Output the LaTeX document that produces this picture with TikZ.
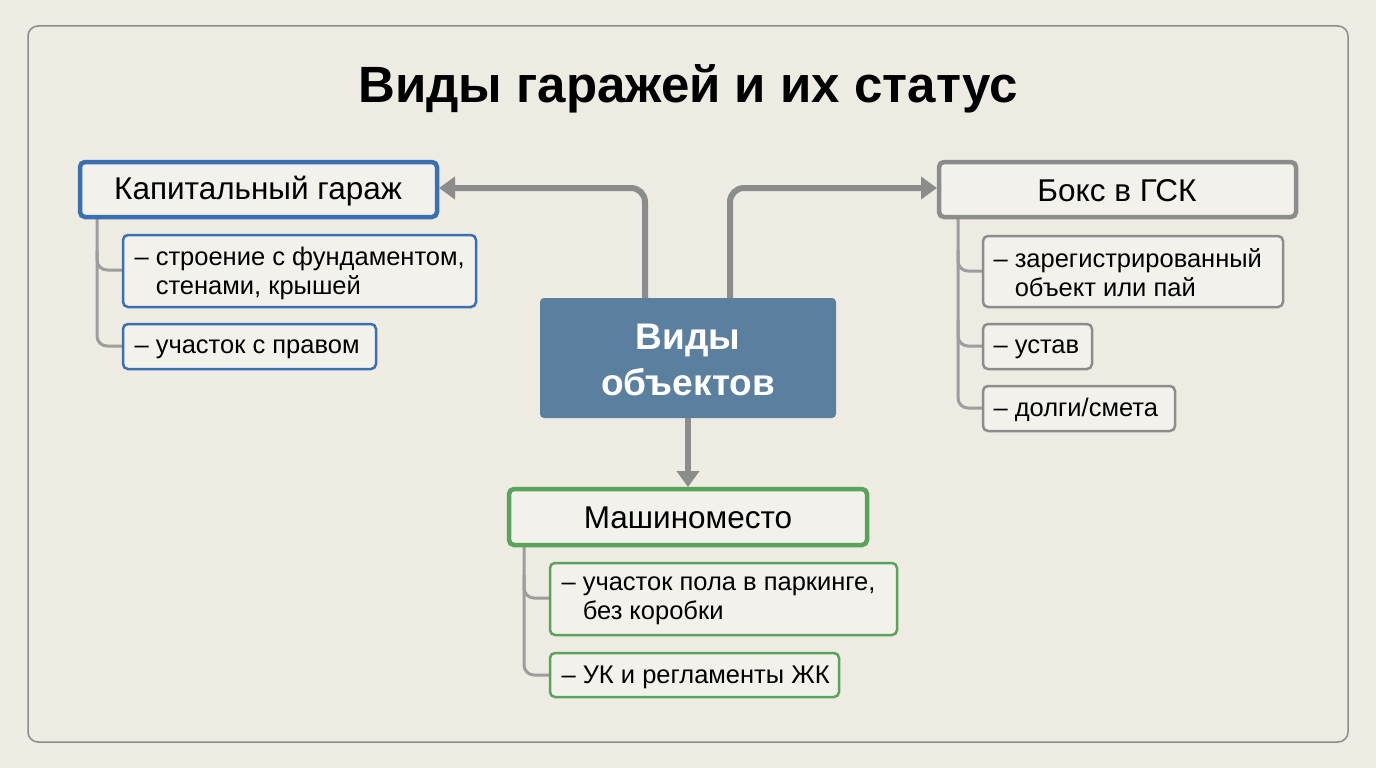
\documentclass[tikz,border=0pt]{standalone}
\usepackage{fontspec}
\setmainfont{Liberation Sans}
\usetikzlibrary{arrows.meta}
\definecolor{bg}{HTML}{EEEBE3}
\definecolor{boxbg}{HTML}{F3F1EC}
\definecolor{cblue}{HTML}{3A70B2}
\definecolor{cgray}{HTML}{8C8C8C}
\definecolor{cgreen}{HTML}{5AA35A}
\definecolor{cmain}{HTML}{5B7F9E}
\begin{document}
\begin{tikzpicture}[x=1pt,y=-1pt,
  head/.style={draw=#1,line width=4.5pt,fill=boxbg,rounded corners=5pt},
  sub/.style={draw=#1,line width=2.5pt,fill=boxbg,rounded corners=5pt},
  conn/.style={draw=cgray,line width=6pt,rounded corners=14pt,-{Triangle[length=16pt,width=22pt]}},
  br/.style={draw=cgray!85,line width=3pt,rounded corners=10pt},
  ht/.style={font=\fontsize{31.5}{34}\selectfont,anchor=center},
  st/.style={font=\fontsize{25.5}{29}\selectfont,anchor=west,align=left}]
\fill[bg] (0,0) rectangle (1376,768);
\useasboundingbox (0,0) rectangle (1376,768);
\draw[cgray,line width=1.5pt,rounded corners=10pt] (28,26) rectangle (1348,742);
\node[font=\fontsize{51}{56}\selectfont\bfseries] (title) at (688,89) {Виды гаражей и их статус};
% brackets
\draw[br] (97,217) -- (97,346) -- (123,346);
\draw[br] (97,250) |- (123,270);
\draw[br] (958,217) -- (958,408) -- (983,408);
\draw[br] (958,250) |- (983,271);
\draw[br] (958,320) |- (983,346);
\draw[br] (524,545) -- (524,675) -- (550,675);
\draw[br] (524,575) |- (550,598);
% center
\path[fill=cmain,rounded corners=4pt] (540,298) rectangle (836,418);
\node[font=\fontsize{37}{46}\selectfont\bfseries,text=white,align=center] (c) at (688,360) {Виды\\объектов};
% head boxes
\draw[head=cblue] (80,162) rectangle (437,217);
\node[ht] (k) at (258,191) {Капитальный гараж};
\draw[head=cgray] (939,162) rectangle (1296,217);
\node[ht] (g) at (1117,191) {Бокс в ГСК};
\draw[head=cgreen] (509,489) rectangle (867,545);
\node[ht] (m) at (688,518) {Машиноместо};
\coordinate (kr) at (439,188);
\coordinate (gl) at (937,188);
\draw[conn] (645,298) -- (645,188) -- (kr);
\draw[conn] (730,298) -- (730,188) -- (gl);
\draw[conn] (688,418) -- (688,487);
% subs
\draw[sub=cblue] (123,235) rectangle (476,307);
\node[st] (s1) at (131,273) {– строение с фундаментом,\\\hphantom{– }стенами, крышей};
\draw[sub=cblue] (123,324) rectangle (376,369);
\node[st] (s2) at (131,349) {– участок с правом};
\draw[sub=cgray] (983,236) rectangle (1283,307);
\node[st] (s3) at (990,273) {– зарегистрированный\\\hphantom{– }объект или пай};
\draw[sub=cgray] (983,324) rectangle (1092,369);
\node[st] (s4) at (990,349) {– устав};
\draw[sub=cgray] (983,386) rectangle (1175,431);
\node[st] (s5) at (990,410) {– долги/смета};
\draw[sub=cgreen] (550,563) rectangle (897,635);
\node[st] (s6) at (558,601) {– участок пола в паркинге,\\\hphantom{– }без коробки};
\draw[sub=cgreen] (550,653) rectangle (839,697);
\node[st] (s7) at (558,677) {– УК и регламенты ЖК};
\end{tikzpicture}
\end{document}
